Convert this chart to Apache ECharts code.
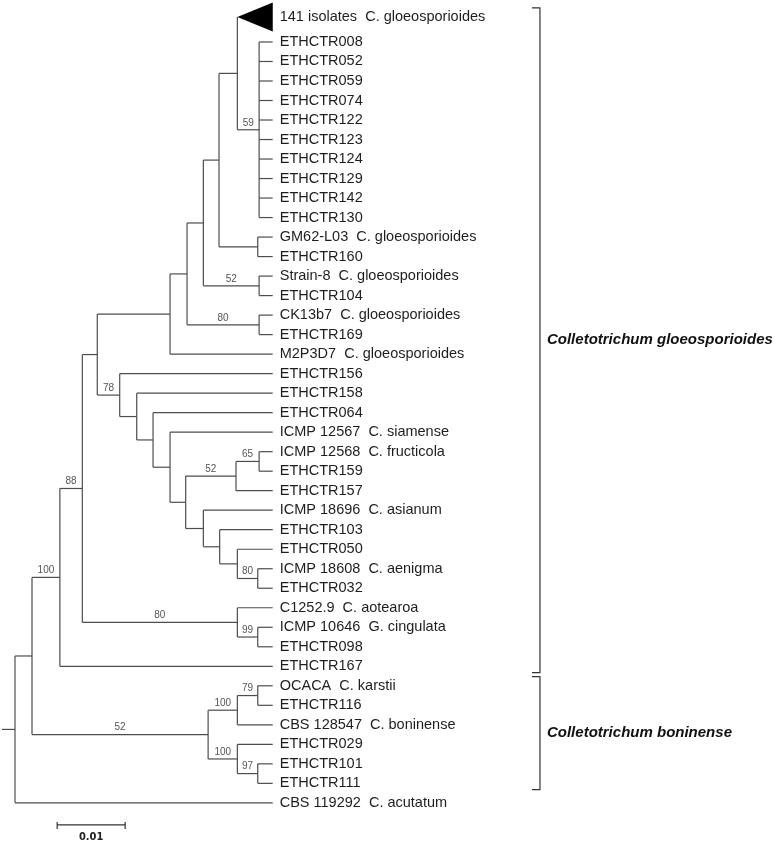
<!DOCTYPE html>
<html><head><meta charset="utf-8">
<script src="https://cdn.jsdelivr.net/npm/echarts@6/dist/echarts.min.js"></script>
<style>html,body{margin:0;padding:0;background:#fff}#c{width:775px;height:846px}</style>
</head><body><div id="c"></div>
<script>
// ---------- DATA ----------
const leafNames = ['141 isolates','ETHCTR008','ETHCTR052','ETHCTR059','ETHCTR074','ETHCTR122','ETHCTR123','ETHCTR124','ETHCTR129','ETHCTR142','ETHCTR130',
  'GM62-L03','ETHCTR160','Strain-8','ETHCTR104','CK13b7','ETHCTR169','M2P3D7','ETHCTR156','ETHCTR158','ETHCTR064',
  'ICMP 12567','ICMP 12568','ETHCTR159','ETHCTR157','ICMP 18696','ETHCTR103','ETHCTR050','ICMP 18608','ETHCTR032',
  'C1252.9','ICMP 10646','ETHCTR098','ETHCTR167','OCACA','ETHCTR116','CBS 128547','ETHCTR029','ETHCTR101','ETHCTR111','CBS 119292'];
const leafSpecies = ['C. gloeosporioides','','','','','','','','','','',
  'C. gloeosporioides','','C. gloeosporioides','','C. gloeosporioides','','C. gloeosporioides','','','',
  'C. siamense','C. fructicola','','','C. asianum','','','C. aenigma','',
  'C. aotearoa','G. cingulata','','','C. karstii','','C. boninense','','','','C. acutatum'];
const leafParents = ['A2','c59','c59','c59','c59','c59','c59','c59','c59','c59','c59',
  'GM','GM','St8','St8','CK','CK','D','F','G','H',
  'I','L','L','K','M','N','O','P','P',
  'Q','R','R','T','X','X','W','Y','Z','Z','root'];
const leafDepths = [0.0379,0.0379,0.0379,0.0379,0.0379,0.0379,0.0379,0.0379,0.0379,0.0379,0.0379,
  0.0379,0.0379,0.0379,0.0379,0.0379,0.0379,0.0379,0.0379,0.0379,0.0379,
  0.0379,0.0379,0.0379,0.0379,0.0379,0.0379,0.0379,0.0379,0.0379,
  0.0379,0.0379,0.0379,0.0379,0.0379,0.0379,0.0379,0.0379,0.0379,0.0379,0.0379];
const collapsedLeaves = [0];            // leaf drawn as a collapsed clade triangle
const nodeIds     = ['root','U','T','S','E','D','C','B','A','A2','c59','GM','St8','CK','F','G','H','I','J','K','L','M','N','O','P','Q','R','V','W','X','Y','Z'];
const nodeParents = [null,'root','U','T','S','E','D','C','B','A','A2','A','B','C','E','F','G','H','I','J','K','J','M','N','O','S','Q','U','V','W','V','Y'];
const nodeDepths  = [0,0.0025,0.0066,0.0099,0.0121,0.0228,0.0253,0.0277,0.0300,0.0327,0.0359,0.0357,0.0359,0.0359,0.0154,0.0179,0.0203,0.0228,0.0251,0.0325,0.0359,0.0277,0.0301,0.0327,0.0357,0.0327,0.0357,0.0284,0.0327,0.0357,0.0327,0.0357];
const nodeSupport = [null,null,100,88,null,null,null,null,null,null,59,null,52,80,78,null,null,null,null,52,65,null,null,null,80,80,99,52,100,79,100,97];
const cladeNames  = ['Colletotrichum gloeosporioides','Colletotrichum boninense'];
const cladeFirst  = [0,34];
const cladeLast   = [33,39];
const scaleBarValue = 0.01;
const scaleBarLabel = '0.01';

// ---------- LAYOUT (derived from tree) ----------
const EXTRA = 0.28; // extra room taken by collapsed triangle
const leafRow = leafNames.map((n,i)=> i + (i>0 ? EXTRA : 0));
const depthOf = {}; nodeIds.forEach((id,i)=>depthOf[id]=nodeDepths[i]);
const kids = {}; nodeIds.forEach(id=>kids[id]=[]);
nodeIds.forEach((id,i)=>{ if(nodeParents[i]) kids[nodeParents[i]].push({t:'n',id}); });
leafParents.forEach((p,i)=>kids[p].push({t:'l',i}));
const rowMemo = {};
function nodeRow(id){
  if(rowMemo[id]!==undefined) return rowMemo[id];
  const rs = kids[id].map(c=> c.t==='l' ? leafRow[c.i] : nodeRow(c.id));
  return rowMemo[id] = (Math.min(...rs)+Math.max(...rs))/2;
}
nodeIds.forEach(nodeRow);
const nodeRange = {};
nodeIds.forEach(id=>{
  const rs = kids[id].map(c=> c.t==='l' ? leafRow[c.i] : rowMemo[c.id]);
  nodeRange[id] = [Math.min(...rs), Math.max(...rs)];
});

const items = [];
nodeIds.forEach((id,i)=>items.push({kind:'node', id, depth:nodeDepths[i], row:rowMemo[id],
  pDepth: nodeParents[i] ? depthOf[nodeParents[i]] : null, range: nodeRange[id], support: nodeSupport[i]}));
leafNames.forEach((n,i)=>items.push({kind:'leaf', name:n, species:leafSpecies[i], depth:leafDepths[i], row:leafRow[i],
  pDepth: depthOf[leafParents[i]], collapsed: collapsedLeaves.includes(i)}));

const LINE = {stroke:'#4d4d4d', lineWidth:1.2};
const FONT = '"Liberation Sans", Arial, sans-serif';

function renderTree(params, api){
  const it = items[params.dataIndex];
  const [x, y] = api.coord([it.depth, it.row]);
  const ch = [];
  if(it.kind==='node'){
    const yTop = api.coord([it.depth, it.range[0]])[1];
    const yBot = api.coord([it.depth, it.range[1]])[1];
    ch.push({type:'line', shape:{x1:x,y1:yTop,x2:x,y2:yBot}, style:LINE});
    if(it.pDepth!==null){
      const px = api.coord([it.pDepth, it.row])[0];
      ch.push({type:'line', shape:{x1:px,y1:y,x2:x,y2:y}, style:LINE});
      if(it.support!==null){
        ch.push({type:'text', x:(px+x)/2, y:y-2, style:{text:String(it.support), fill:'#555', fontSize:10, fontFamily:FONT, align:'center', verticalAlign:'bottom'}});
      }
    } else {
      ch.push({type:'line', shape:{x1:x-13,y1:y,x2:x,y2:y}, style:LINE});
    }
  } else {
    const px = api.coord([it.pDepth, it.row])[0];
    if(it.collapsed){
      const h = api.size([0,0.74])[1];
      ch.push({type:'polygon', shape:{points:[[px,y],[x,y-h],[x,y+h]]}, style:{fill:'#000'}});
    } else {
      ch.push({type:'line', shape:{x1:px,y1:y,x2:x,y2:y}, style:LINE});
    }
    const label = it.species ? it.name + '  ' + it.species : it.name;
    ch.push({type:'text', x:x+7, y:y, style:{text:label, fill:'#1e1e1e', fontSize:14.5, fontFamily:FONT, align:'left', verticalAlign:'middle'}});
  }
  return {type:'group', children:ch};
}

const BRACKET_X = 0.0772;
function renderBracket(params, api){
  const i = params.dataIndex;
  const top = leafRow[cladeFirst[i]] - 0.47, bot = leafRow[cladeLast[i]] + 0.32;
  const [x, y1] = api.coord([BRACKET_X, top]);
  const y2 = api.coord([BRACKET_X, bot])[1];
  return {type:'group', children:[
    {type:'polyline', shape:{points:[[x-8,y1],[x,y1],[x,y2],[x-8,y2]]}, style:{stroke:'#333', lineWidth:1.2, fill:null}},
    {type:'text', x:x+7, y:(y1+y2)/2, style:{text:cladeNames[i], fill:'#111', fontSize:15, fontWeight:'bold', fontStyle:'italic', fontFamily:FONT, align:'left', verticalAlign:'middle'}}
  ]};
}

const SB_START = 0.0062, SB_ROW = 41.41;
function renderScale(params, api){
  const [x1, y] = api.coord([SB_START, SB_ROW]);
  const x2 = api.coord([SB_START + scaleBarValue, SB_ROW])[0];
  return {type:'group', children:[
    {type:'line', shape:{x1,y1:y,x2,y2:y}, style:{stroke:'#333', lineWidth:1.3}},
    {type:'line', shape:{x1,y1:y-3,x2:x1,y2:y+4}, style:{stroke:'#333', lineWidth:1.2}},
    {type:'line', shape:{x1:x2,y1:y-3,x2:x2,y2:y+4}, style:{stroke:'#333', lineWidth:1.2}},
    {type:'text', x:(x1+x2)/2, y:y+7, style:{text:scaleBarLabel, fill:'#222', fontSize:11, fontWeight:'bold', fontFamily:'"DejaVu Sans Condensed", "DejaVu Sans", sans-serif', align:'center', verticalAlign:'top'}}
  ]};
}

const ROWPX = 19.51;
const chart = echarts.init(document.getElementById('c'));
chart.setOption({
  animation:false,
  backgroundColor:'#fff',
  grid:{left:15, top:17-0.8*ROWPX, width:680, height:43*ROWPX},
  xAxis:{type:'value', min:0, max:0.1, show:false},
  yAxis:{type:'value', inverse:true, min:-0.8, max:42.2, show:false},
  series:[
    {type:'custom', clip:false, silent:true, renderItem:renderTree, data:items.map(it=>[it.depth,it.row])},
    {type:'custom', clip:false, silent:true, renderItem:renderBracket, data:cladeNames.map((n,i)=>[BRACKET_X, leafRow[cladeFirst[i]]])},
    {type:'custom', clip:false, silent:true, renderItem:renderScale, data:[[SB_START, SB_ROW]]}
  ]
});
</script></body></html>
